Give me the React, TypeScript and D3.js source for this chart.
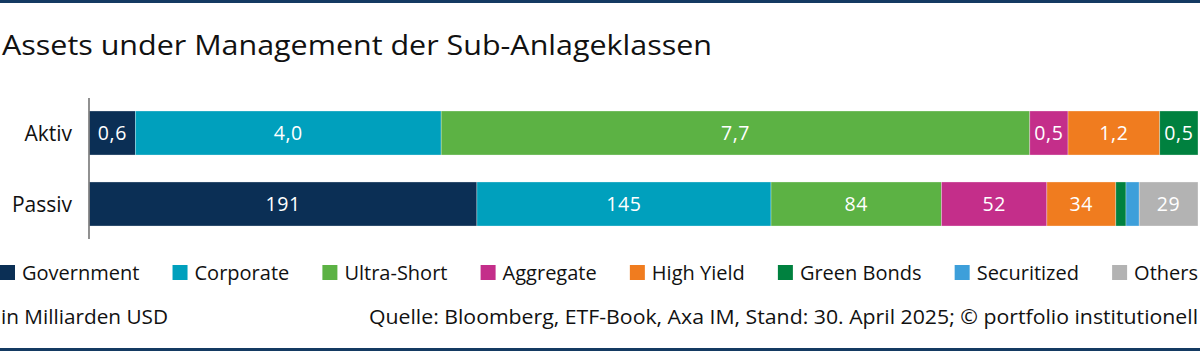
import React, { useEffect, useRef } from "react";
import * as d3 from "d3";

const title = "Assets under Management der Sub-Anlageklassen";
const categories = ["Aktiv", "Passiv"];
const seriesNames = ["Government", "Corporate", "Ultra-Short", "Aggregate", "High Yield", "Green Bonds", "Securitized", "Others"];
const seriesColors = ["#0b2f55", "#00a0bd", "#5cb244", "#c42e8a", "#f07c1f", "#00813f", "#3d9fda", "#b3b3b3"];
const aktivValues = [0.6, 4.0, 7.7, 0.5, 1.2, 0.5, 0, 0];
const passivValues = [191, 145, 84, 52, 34, 5, 6.5, 29];
const unitNote = "in Milliarden USD";
const sourceNote = "Quelle: Bloomberg, ETF-Book, Axa IM, Stand: 30. April 2025; © portfolio institutionell";

const W = 1200;
const H = 351;
const FONT = "'Open Sans', Roboto, sans-serif";
const NAVY = "#143a62";

export default function App() {
  const ref = useRef<SVGSVGElement | null>(null);

  useEffect(() => {
    const svg = d3.select(ref.current);
    svg.selectAll("*").remove();

    // frame lines
    svg.append("rect").attr("x", 0).attr("y", 0).attr("width", W).attr("height", 3).attr("fill", NAVY);
    svg.append("rect").attr("x", 0).attr("y", 348).attr("width", W).attr("height", 3).attr("fill", NAVY);

    // title
    svg.append("text").attr("x", 2).attr("y", 55)
      .attr("font-family", FONT).attr("font-size", 27.5).attr("fill", "#111")
      .attr("textLength", 710).attr("lengthAdjust", "spacingAndGlyphs")
      .text(title);

    const rows = [aktivValues, passivValues];
    const y = d3.scaleBand<string>().domain(categories).range([98, 239]).paddingInner(0.38).paddingOuter(0.183);
    const x = d3.scaleLinear().domain([0, 1]).range([89.5, 1198]);

    rows.forEach((vals, ri) => {
      const total = d3.sum(vals);
      const stack = d3.cumsum(vals);
      const cat = categories[ri];
      const g = svg.append("g");
      vals.forEach((v, i) => {
        if (v <= 0) return;
        const x0 = x((stack[i] - v) / total);
        const x1 = x(stack[i] / total);
        g.append("rect")
          .attr("x", x0).attr("y", y(cat)!)
          .attr("width", x1 - x0).attr("height", y.bandwidth())
          .attr("fill", seriesColors[i])
          .attr("stroke", "#ffffff").attr("stroke-opacity", 0.5).attr("stroke-width", 0.6);
        if (x1 - x0 > 26) {
          const label = v < 10 ? d3.format(".1f")(v).replace(".", ",") : d3.format("d")(v);
          g.append("text")
            .attr("x", (x0 + x1) / 2).attr("y", y(cat)! + y.bandwidth() / 2 + 7)
            .attr("text-anchor", "middle")
            .attr("font-family", FONT).attr("font-size", 19.5).attr("fill", "#ffffff")
            .attr("letter-spacing", 0.6)
            .text(label);
        }
      });
      svg.append("text")
        .attr("x", 72).attr("y", y(cat)! + y.bandwidth() / 2 + 8)
        .attr("text-anchor", "end")
        .attr("font-family", FONT).attr("font-size", 21).attr("fill", "#111")
        .text(cat);
    });

    // axis line
    svg.append("line").attr("x1", 89).attr("x2", 89).attr("y1", 98).attr("y2", 239)
      .attr("stroke", "#555").attr("stroke-width", 1.3);

    // legend (justified across width)
    const lg = svg.append("g");
    const sq = 15;
    const gapIn = 7;
    const items = seriesNames.map((name, i) => {
      const gi = lg.append("g");
      gi.append("rect").attr("y", 265).attr("width", sq).attr("height", sq).attr("fill", seriesColors[i]);
      const tx = gi.append("text").attr("x", sq + gapIn).attr("y", 280)
        .attr("font-family", FONT).attr("font-size", 20).attr("fill", "#111")
        .text(name);
      const w = (tx.node() as SVGTextElement).getComputedTextLength();
      return { gi, w: sq + gapIn + w };
    });
    const totalW = d3.sum(items, (d) => d.w);
    const gap = (1198 - 0 - totalW) / (items.length - 1);
    let cx = 0;
    items.forEach((it) => {
      it.gi.attr("transform", `translate(${cx},0)`);
      cx += it.w + gap;
    });

    // footer
    svg.append("text").attr("x", 1).attr("y", 324)
      .attr("font-family", FONT).attr("font-size", 20.5).attr("fill", "#111")
      .attr("textLength", 167).attr("lengthAdjust", "spacingAndGlyphs")
      .text(unitNote);
    svg.append("text").attr("x", 369).attr("y", 324)
      .attr("font-family", FONT).attr("font-size", 20.5).attr("fill", "#111")
      .attr("textLength", 829).attr("lengthAdjust", "spacingAndGlyphs")
      .text(sourceNote);
  }, []);

  return (
    <svg ref={ref} width={W} height={H} viewBox={`0 0 ${W} ${H}`}
      style={{ position: "absolute", left: 0, top: 0, background: "#fff", display: "block" }} />
  );
}
